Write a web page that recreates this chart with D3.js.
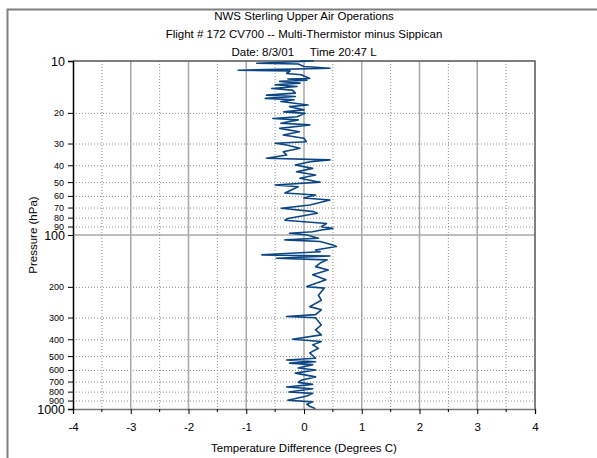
<!DOCTYPE html>
<html>
<head>
<meta charset="utf-8">
<script src="https://cdn.jsdelivr.net/npm/d3@7"></script>
<style>
  body { margin: 0; background: #fff; }
  svg { font-family: "Liberation Sans", Arial, sans-serif; }
  .title { font-size: 11.5px; fill: #000; }
  .label { font-size: 11.5px; fill: #000; }
</style>
</head>
<body>
<div class="graph"></div>
<script>
// pressure levels (hPa) and temperature difference (deg C)
const pressure = [10.0, 10.0, 10.3, 10.4, 10.75, 11.0, 11.3, 11.4, 11.8, 12.0,
  12.6, 12.7, 12.9, 13.1, 13.4, 13.7, 14.0, 14.4, 14.7, 15.3,
  15.7, 16.0, 16.4, 16.7, 17.1, 17.9, 18.3, 19.1, 19.6, 20.0,
  20.9, 21.4, 21.8, 22.8, 23.3, 24.4, 25.5, 26.6, 27.8, 29.1,
  29.7, 30.4, 31.7, 33.2, 34.7, 36.2, 37.0, 37.9, 39.6, 41.4,
  43.3, 45.2, 47.2, 49.4, 49.7, 51.6, 52.8, 57.4, 58.9, 61.3,
  62.9, 67.2, 70.2, 73.4, 75.0, 80.3, 82.2, 84.0, 85.9, 89.6,
  91.6, 93.6, 95.7, 97.8, 100, 104.4, 106.7, 109, 114, 116.5,
  122, 124.7, 130, 132, 136, 139, 145, 152, 159, 169,
  181, 198, 202, 222, 237, 258, 269, 287, 294, 299,
  329, 351, 375, 397, 409, 428, 448, 476, 511, 523,
  535, 545, 556, 581, 597, 622, 654, 684, 703, 722,
  748, 765, 799, 813, 842, 890, 910, 939, 965, 996];
const tempDiff = [-0.07, 0.16, -0.82, -0.1, 0.0, 0.45, -1.14, -0.24, -0.3, -0.05,
  0.1, -0.28, 0.05, -0.42, -0.07, -0.5, -0.12, -0.56, -0.2, -0.15,
  -0.65, -0.15, -0.67, -0.17, -0.4, 0.07, -0.25, 0.0, -0.35, 0.02,
  -0.12, -0.54, -0.1, -0.4, 0.1, -0.42, -0.08, -0.36, 0.0, 0.04,
  -0.5, -0.3, -0.07, -0.36, -0.3, -0.65, 0.45, 0.1, -0.15, 0.15,
  -0.13, 0.2, -0.07, 0.23, 0.28, -0.5, -0.1, -0.33, 0.2, 0.0,
  0.45, 0.1, -0.39, 0.17, 0.23, -0.28, -0.33, 0.0, 0.39, 0.3,
  0.5, 0.3, 0.15, -0.25, 0.05, 0.25, -0.33, 0.28, 0.5, 0.56,
  0.2, 0.28, -0.73, 0.45, -0.48, 0.4, 0.28, 0.2, 0.42, 0.15,
  0.38, 0.05, 0.35, 0.25, 0.3, 0.1, 0.3, 0.2, -0.3, 0.2,
  0.3, 0.2, 0.3, -0.2, 0.3, 0.15, 0.25, 0.1, 0.2, -0.3,
  0.2, -0.25, 0.15, -0.1, 0.2, -0.15, 0.2, -0.05, -0.1, 0.15,
  -0.3, 0.15, -0.26, 0.15, 0.05, -0.28, 0.15, 0.05, 0.1, 0.2];

const xTicks = [-4, -3, -2, -1, 0, 1, 2, 3, 4];
const xMinorTicks = [-3.5, -2.5, -1.5, -0.5, 0.5, 1.5, 2.5, 3.5];
const yMajorTicks = [10, 100, 1000];
const yMinorTicks = [20, 30, 40, 50, 60, 70, 80, 90, 200, 300, 400, 500, 600, 700, 800, 900];
const titleLines = ["NWS Sterling Upper Air Operations",
  "Flight # 172 CV700 -- Multi-Thermistor minus Sippican",
  "Date: 8/3/01     Time 20:47 L"];

const width = 597, height = 458;
const margin = { top: 61, right: 62, bottom: 49, left: 73 };

const data = pressure.map((p, i) => ({ p: p, t: tempDiff[i] }));

const svg = d3.select(".graph")
  .append("svg")
  .attr("width", width)
  .attr("height", height);

//outer frame (only top and left edges are inside the picture)
svg.append("path")
  .attr("d", `M7.5,${height} V9.5 H${width}`)
  .attr("fill", "none")
  .attr("stroke", "#7f7f7f")
  .attr("stroke-width", 2);

const xScale = d3.scaleLinear()
  .domain([-4, 4])
  .range([margin.left, width - margin.right]);

const yScale = d3.scaleLog()
  .domain([10, 1000])
  .range([margin.top, height - margin.bottom]);

//titles
svg.selectAll(".title")
  .data(titleLines)
  .join("text")
  .attr("class", "title")
  .attr("x", 304)
  .attr("y", (d, i) => 20 + i * 18)
  .attr("text-anchor", "middle")
  .attr("xml:space", "preserve")
  .text(d => d);

//gridlines
const grid = svg.append("g");
grid.selectAll(".vminor")
  .data(xMinorTicks)
  .join("line")
  .attr("x1", d => xScale(d)).attr("x2", d => xScale(d))
  .attr("y1", margin.top).attr("y2", height - margin.bottom)
  .attr("stroke", "#8c8c8c").attr("stroke-dasharray", "1,2");
grid.selectAll(".hminor")
  .data(yMinorTicks)
  .join("line")
  .attr("x1", margin.left).attr("x2", width - margin.right)
  .attr("y1", d => yScale(d)).attr("y2", d => yScale(d))
  .attr("stroke", "#8c8c8c").attr("stroke-dasharray", "1,2");
grid.selectAll(".vmajor")
  .data(xTicks.slice(1, -1))
  .join("line")
  .attr("x1", d => xScale(d)).attr("x2", d => xScale(d))
  .attr("y1", margin.top).attr("y2", height - margin.bottom)
  .attr("stroke", "#a8a8a8").attr("stroke-width", 1.5);
grid.append("line")
  .attr("x1", margin.left).attr("x2", width - margin.right)
  .attr("y1", yScale(100)).attr("y2", yScale(100))
  .attr("stroke", "#a8a8a8").attr("stroke-width", 1.5);

//plot border top/right
svg.append("path")
  .attr("d", `M${margin.left},${margin.top} H${width - margin.right} V${height - margin.bottom}`)
  .attr("fill", "none")
  .attr("stroke", "#555")
  .attr("stroke-width", 1.5);

//trace
const line = d3.line()
  .x(d => xScale(d.t))
  .y(d => yScale(d.p));

svg.append("path")
  .datum(data)
  .attr("d", line)
  .attr("fill", "none")
  .attr("stroke", "#0b4584")
  .attr("stroke-width", 1.6)
  .attr("stroke-linejoin", "round");

//x axis
const xAxis = d3.axisBottom(xScale)
  .tickValues(xTicks)
  .tickSize(5)
  .tickPadding(9)
  .tickFormat(d => String(d));
const xAxisGroup = svg.append("g")
  .attr("transform", `translate(0, ${height - margin.bottom})`)
  .call(xAxis);
xAxisGroup.select(".domain").attr("stroke", "#777").attr("stroke-width", 1.5);
xAxisGroup.selectAll("text").attr("font-size", 11.5).attr("font-family", "Liberation Sans, Arial, sans-serif");
xAxisGroup.selectAll(".minor")
  .data(xMinorTicks)
  .join("line")
  .attr("class", "minor")
  .attr("x1", d => xScale(d)).attr("x2", d => xScale(d))
  .attr("y1", 0).attr("y2", 3)
  .attr("stroke", "#000");

svg.append("text")
  .attr("class", "label")
  .attr("x", xScale(0))
  .attr("y", 452)
  .attr("text-anchor", "middle")
  .text("Temperature Difference (Degrees C)");

//y axis
const yAxis = d3.axisLeft(yScale)
  .tickValues(yMajorTicks)
  .tickSize(5)
  .tickPadding(3)
  .tickFormat(d => String(d));
const yAxisGroup = svg.append("g")
  .attr("transform", `translate(${margin.left}, 0)`)
  .call(yAxis);
yAxisGroup.select(".domain").attr("stroke-width", 1.5);
yAxisGroup.selectAll("text").attr("font-size", 12.5).attr("font-family", "Liberation Sans, Arial, sans-serif");

const yMinor = svg.append("g")
  .attr("transform", `translate(${margin.left}, 0)`);
yMinor.selectAll("line")
  .data(yMinorTicks)
  .join("line")
  .attr("x1", -5).attr("x2", 0)
  .attr("y1", d => yScale(d)).attr("y2", d => yScale(d))
  .attr("stroke", "#000");
yMinor.selectAll("text")
  .data(yMinorTicks)
  .join("text")
  .attr("x", -9)
  .attr("y", d => yScale(d))
  .attr("dy", "0.32em")
  .attr("text-anchor", "end")
  .attr("font-size", 9)
  .text(d => d);

svg.append("text")
  .attr("class", "label")
  .attr("transform", `translate(37, ${yScale(100)}) rotate(-90)`)
  .attr("text-anchor", "middle")
  .text("Pressure (hPa)");
</script>
</body>
</html>
